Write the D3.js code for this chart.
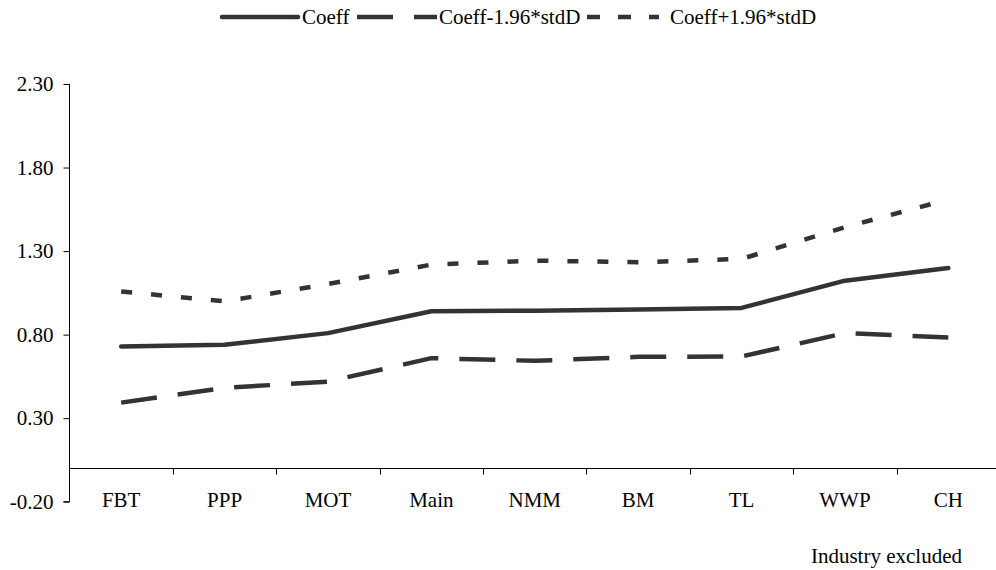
<!DOCTYPE html>
<html>
<head>
<meta charset="utf-8">
<script src="https://cdn.jsdelivr.net/npm/d3@7"></script>
<style>
  body { margin: 0; background: #fff; }
</style>
</head>
<body>
<div id="plot"></div>
<script>
// data
var industries = ["FBT", "PPP", "MOT", "Main", "NMM", "BM", "TL", "WWP", "CH"];
var coeff      = [0.729, 0.739, 0.809, 0.940, 0.943, 0.950, 0.960, 1.123, 1.199];
var coeffLow   = [0.393, 0.481, 0.519, 0.659, 0.643, 0.667, 0.669, 0.809, 0.783];
var coeffHigh  = [1.058, 0.999, 1.103, 1.219, 1.243, 1.233, 1.253, 1.443, 1.609];
var yTicks = [-0.2, 0.3, 0.8, 1.3, 1.8, 2.3];
var seriesNames = ["Coeff", "Coeff-1.96*stdD", "Coeff+1.96*stdD"];

var width = 996, height = 570;
var font = "Liberation Serif";
var fontSize = "21px";

var svg = d3.select("#plot")
  .append("svg")
    .attr("width", width)
    .attr("height", height);

var x = d3.scaleBand()
  .domain(industries)
  .range([69.5, 1000])
  .padding(0);

var y = d3.scaleLinear()
  .domain([-0.2, 2.3])
  .range([501.7, 84]);

// y axis, plain hyphen for the minus like the original
var fmt = d3.format(".2f");
var yAxis = svg.append("g")
  .attr("transform", "translate(69.5,0)")
  .call(d3.axisLeft(y).tickValues(yTicks).tickSize(6).tickPadding(10)
    .tickFormat(d => fmt(d).replace("\u2212", "-")));
yAxis.select(".domain").attr("stroke", "#000").attr("d", "M-6," + y(-0.2) + "H0V" + y(2.3));
yAxis.selectAll(".tick line").attr("stroke", "#000");
yAxis.selectAll("text")
  .style("font-family", font)
  .style("font-size", fontSize)
  .attr("fill", "#000");

// x axis sits at zero
var zeroY = Math.round(y(0)) + 0.5;
svg.append("line")
  .attr("x1", 69.5).attr("x2", width)
  .attr("y1", zeroY).attr("y2", zeroY)
  .attr("stroke", "#000");

svg.append("g")
  .selectAll("line")
  .data(industries.slice(1))
  .enter()
  .append("line")
    .attr("x1", d => Math.round(x(d)) + 0.5)
    .attr("x2", d => Math.round(x(d)) + 0.5)
    .attr("y1", zeroY)
    .attr("y2", zeroY + 6)
    .attr("stroke", "#000");

svg.append("g")
  .selectAll("text")
  .data(industries)
  .enter()
  .append("text")
    .attr("x", d => x(d) + x.bandwidth() / 2)
    .attr("y", 507)
    .attr("text-anchor", "middle")
    .style("font-family", font)
    .style("font-size", fontSize)
    .text(d => d);

// axis title
svg.append("text")
  .attr("x", 962)
  .attr("y", 563)
  .attr("text-anchor", "end")
  .style("font-family", font)
  .style("font-size", fontSize)
  .text("Industry excluded");

// lines
var styles = [
  {values: coeff, dash: null},
  {values: coeffLow, dash: "36,21"},
  {values: coeffHigh, dash: "11,19"}
];

var line = d3.line()
  .x((d, i) => x(industries[i]) + x.bandwidth() / 2)
  .y(d => y(d));

svg.append("g")
  .selectAll("path")
  .data(styles)
  .enter()
  .append("path")
    .attr("d", d => line(d.values))
    .attr("fill", "none")
    .attr("stroke", "#333")
    .attr("stroke-width", 4.5)
    .attr("stroke-linejoin", "round")
    .attr("stroke-linecap", (d) => d.dash ? "butt" : "round")
    .attr("stroke-dasharray", d => d.dash);

// legend (sample start, sample end, text start)
var legendPos = [[222, 298, 302], [357, 437, 439], [587, 659, 670]];
seriesNames.forEach(function(name, i) {
  var p = legendPos[i];
  svg.append("line")
    .attr("x1", p[0]).attr("x2", p[1])
    .attr("y1", 17).attr("y2", 17)
    .attr("stroke", "#333")
    .attr("stroke-width", 4.5)
    .attr("stroke-linecap", i == 0 ? "round" : "butt")
    .attr("stroke-dasharray", i == 2 ? "13,18" : styles[i].dash);
  svg.append("text")
    .attr("x", p[2])
    .attr("y", 24)
    .style("font-family", font)
    .style("font-size", fontSize)
    .text(name);
});
</script>
</body>
</html>
